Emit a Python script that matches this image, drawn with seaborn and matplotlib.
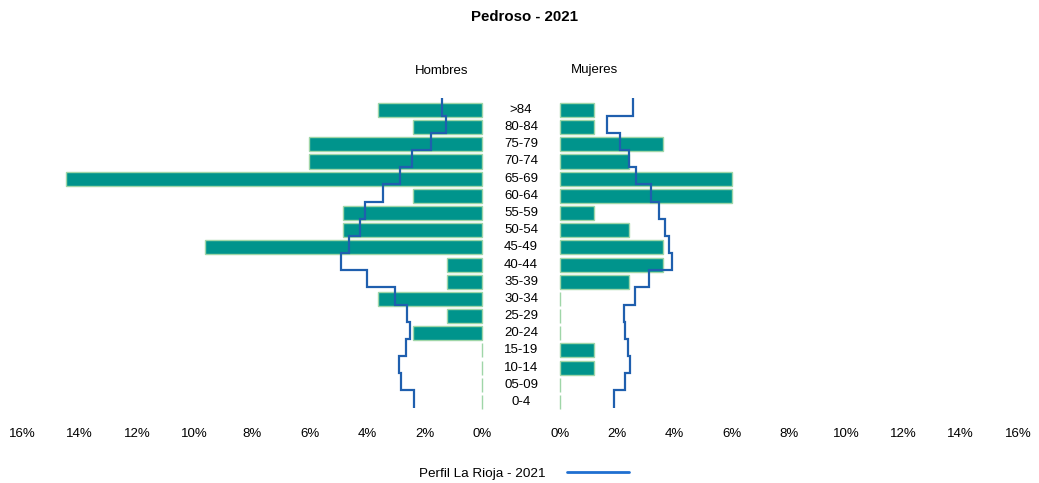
import numpy as np
import matplotlib
matplotlib.use("Agg")
import matplotlib.pyplot as plt
from matplotlib.lines import Line2D
import matplotlib.transforms as mtransforms
import seaborn as sns

# ── Data ─────────────────────────────────────────────────────────────────────
AGES = [">84", "80-84", "75-79", "70-74", "65-69", "60-64", "55-59", "50-54", "45-49",
        "40-44", "35-39", "30-34", "25-29", "20-24", "15-19", "10-14", "05-09", "0-4"]

# Pedroso 2021, % of total population
HOMBRES = [3.61, 2.41, 6.02, 6.02, 14.46, 2.41, 4.82, 4.82, 9.64,
           1.20, 1.20, 3.61, 1.20, 2.41, 0.0, 0.0, 0.0, 0.0]
MUJERES = [1.20, 1.20, 3.61, 2.41, 6.02, 6.02, 1.20, 2.41, 3.61,
           3.61, 2.41, 0.0, 0.0, 0.0, 1.20, 1.20, 0.0, 0.0]

# Perfil La Rioja 2021 (%)
RIOJA_H = [1.38, 1.26, 1.77, 2.45, 2.85, 3.44, 4.06, 4.24, 4.64,
           4.91, 4.01, 3.01, 2.62, 2.50, 2.64, 2.89, 2.82, 2.38]
RIOJA_M = [2.56, 1.65, 2.10, 2.40, 2.66, 3.19, 3.47, 3.66, 3.80,
           3.90, 3.10, 2.62, 2.25, 2.27, 2.37, 2.45, 2.27, 1.89]

XTICKS = [0, 2, 4, 6, 8, 10, 12, 14, 16]

BAR_COLOR = "#00948c"
EDGE_COLOR = "#9fd6a8"
LINE_COLOR = "#1f5fae"

# ── Plot ─────────────────────────────────────────────────────────────────────
sns.set_style("white")
plt.rcParams["font.family"] = ["Liberation Sans", "DejaVu Sans"]
plt.rcParams["text.color"] = "black"
plt.rcParams["xtick.color"] = "black"

fig = plt.figure(figsize=(10.39, 4.83), dpi=100)
ax_h = fig.add_axes([0.0212, 0.1429, 0.4427, 0.6650])
ax_m = fig.add_axes([0.5390, 0.1429, 0.4408, 0.6650])

edges = np.arange(-0.5, len(AGES)) - 0.17

for ax, vals, prof in [(ax_h, HOMBRES, RIOJA_H), (ax_m, MUJERES, RIOJA_M)]:
    sns.barplot(x=vals, y=AGES, orient="h", color=BAR_COLOR, saturation=1,
                width=0.82, edgecolor=EDGE_COLOR, linewidth=1.0, ax=ax)
    for p in ax.patches:
        p.set_clip_on(False)
    ax.stairs(prof, edges, orientation="horizontal", baseline=None,
              color=LINE_COLOR, linewidth=1.6, zorder=5)
    ax.set_ylim(len(AGES) - 0.3, -1.0)
    ax.set_xlim(0, 16)
    ax.set_xticks(XTICKS)
    ax.set_xticklabels([f"{t}%" for t in XTICKS], fontsize=9.5)
    ax.set_yticks([])
    ax.set_xlabel("")
    ax.set_ylabel("")
    ax.tick_params(axis="x", length=0, pad=10)
    for s in ax.spines.values():
        s.set_visible(False)
    ax.set_facecolor("none")

ax_h.invert_xaxis()

# age labels in the middle
trans = mtransforms.blended_transform_factory(fig.transFigure, ax_h.transData)
for i, a in enumerate(AGES):
    fig.text(0.5015, i, a, transform=trans, ha="center", va="center", fontsize=9.5)

fig.text(0.5045, 0.965, "Pedroso - 2021", ha="center", va="center",
         fontsize=10.8, fontweight="bold")
fig.text(0.4255, 0.853, "Hombres", ha="center", va="center", fontsize=9.5)
fig.text(0.5725, 0.855, "Mujeres", ha="center", va="center", fontsize=9.5)

handle = Line2D([], [], color="#1f6fd0", linewidth=2)
fig.legend([handle], ["Perfil La Rioja - 2021"], loc="center",
           bbox_to_anchor=(0.5045, 0.02), frameon=False, markerfirst=False,
           handlelength=4.6, handletextpad=1.6, fontsize=9.7)

fig.savefig("out.png", dpi=100)
